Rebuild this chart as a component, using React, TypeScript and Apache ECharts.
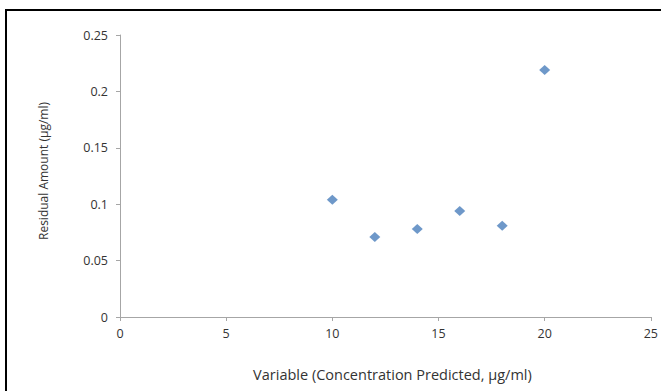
import React, { useEffect, useRef } from "react";
import * as echarts from "echarts";

const xValues = [10, 12, 14, 16, 18, 20];
const yValues = [0.104, 0.071, 0.078, 0.094, 0.081, 0.219];
const xTitle = "Variable (Concentration Predicted, µg/ml)";
const yTitle = "Residual Amount (µg/ml)";

export default function App() {
  const ref = useRef<HTMLDivElement>(null);
  useEffect(() => {
    if (!ref.current) return;
    const chart = echarts.init(ref.current, undefined, { renderer: "svg" });
    const font = "'Open Sans', 'Noto Sans', sans-serif";
    chart.setOption({
      animation: false,
      backgroundColor: "#ffffff",
      textStyle: { fontFamily: font },
      grid: { left: 120, right: 8, top: 35, bottom: 74 },
      xAxis: {
        type: "value",
        min: 0,
        max: 25,
        interval: 5,
        name: xTitle,
        nameLocation: "middle",
        nameGap: 50,
        nameTextStyle: { fontSize: 14.5, color: "#333", fontFamily: font, padding: [0, 0, 0, 14] },
        axisLine: { show: true, lineStyle: { color: "#a6a6a6", width: 1 } },
        axisTick: { show: true, length: 4, lineStyle: { color: "#a6a6a6" } },
        axisLabel: { fontSize: 12.5, color: "#333", margin: 10, fontFamily: font },
        splitLine: { show: false },
      },
      yAxis: {
        type: "value",
        min: 0,
        max: 0.25,
        interval: 0.05,
        name: yTitle,
        nameLocation: "middle",
        nameGap: 71,
        nameTextStyle: { fontSize: 12, color: "#333", fontFamily: font, padding: [0, 0, 0, 10] },
        axisLine: { show: true, lineStyle: { color: "#a6a6a6", width: 1 } },
        axisTick: { show: true, length: 4, lineStyle: { color: "#a6a6a6" } },
        axisLabel: {
          fontSize: 12.5,
          color: "#333",
          margin: 12,
          fontFamily: font,
          formatter: (v: number) => String(parseFloat(v.toFixed(2))),
        },
        splitLine: { show: false },
      },
      series: [
        {
          type: "scatter",
          data: xValues.map((x, i) => [x, yValues[i]]),
          symbol: "diamond",
          symbolSize: [11, 10],
          itemStyle: { color: "#4a7ebb" },
        },
      ],
      graphic: [
        {
          type: "rect",
          shape: { x: 6, y: 10, width: 700, height: 420 },
          style: { fill: "none", stroke: "#000", lineWidth: 2 },
          silent: true,
        },
      ],
    });
    return () => chart.dispose();
  }, []);
  return (
    <div
      ref={ref}
      style={{ position: "fixed", left: 0, top: 0, width: 661, height: 391 }}
    />
  );
}
